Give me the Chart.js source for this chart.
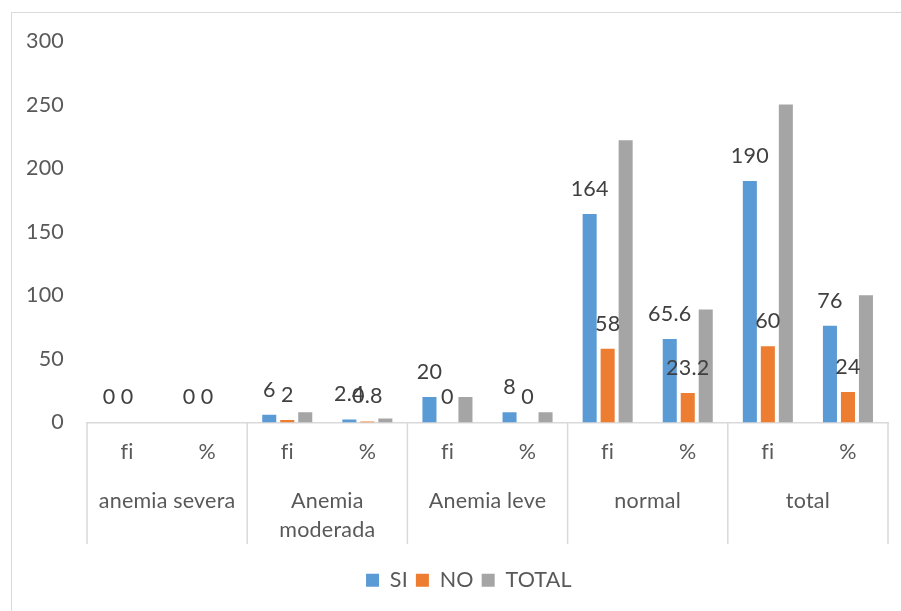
<!DOCTYPE html>
<html><head><meta charset="utf-8">
<script src="https://cdn.jsdelivr.net/npm/chart.js@4.4.0/dist/chart.umd.min.js"></script>
<style>
html,body{margin:0;padding:0;background:#fff;overflow:hidden;}
#frame{position:absolute;left:11px;top:12px;width:1000px;height:1000px;border:1px solid #D9D9D9;}
#wrap{position:absolute;left:0;top:0;width:901px;height:611px;}
</style></head><body>
<div id="frame"></div>
<div id="wrap"><canvas id="c" width="901" height="611"></canvas></div>
<script>
const categories = ['fi','%','fi','%','fi','%','fi','%','fi','%'];
const groups = ['anemia severa',['Anemia','moderada'],'Anemia leve','normal','total'];
const siValues = [0,0,6,2.4,20,8,164,65.6,190,76];
const noValues = [0,0,2,0.8,0,0,58,23.2,60,24];
const totalValues = [0,0,8,3.2,20,8,222,88.8,250,100];
const yTicks = [0,50,100,150,200,250,300];

const FONT = 'Lato';
const FS = 21.5;

const noLigatures = {
  id:'noLigatures',
  beforeDraw(chart){ chart.ctx.letterSpacing = '0.2px'; }
};

const legendShift = {
  id:'legendShift',
  afterLayout(chart){
    if (chart.legend) { chart.legend.left += 24; chart.legend.right += 24; }
  }
};

const valueLabels = {
  id:'valueLabels',
  afterDatasetsDraw(chart){
    const ctx = chart.ctx;
    ctx.save();
    ctx.font = FS + 'px ' + FONT;
    ctx.fillStyle = '#404040';
    ctx.textAlign = 'center';
    ctx.textBaseline = 'middle';
    [0,1].forEach(di=>{
      const meta = chart.getDatasetMeta(di);
      meta.data.forEach((bar,i)=>{
        const v = chart.data.datasets[di].data[i];
        ctx.fillText(String(v), bar.x, bar.y - 25);
      });
    });
    ctx.restore();
  }
};

const groupLines = {
  id:'groupLines',
  afterDraw(chart){
    const xs = chart.scales.x;
    const half = (xs.getPixelForValue(1) - xs.getPixelForValue(0)) / 2;
    const ctx = chart.ctx;
    ctx.save();
    ctx.strokeStyle = '#D9D9D9';
    ctx.lineWidth = 1.5;
    for (let g = 0; g <= categories.length; g += 2) {
      const x = g < categories.length ? xs.getPixelForValue(g) - half : xs.getPixelForValue(categories.length - 1) + half;
      ctx.beginPath();
      ctx.moveTo(x, chart.chartArea.bottom);
      ctx.lineTo(x, 544);
      ctx.stroke();
    }
    ctx.restore();
  }
};

new Chart(document.getElementById('c'), {
  type: 'bar',
  data: {
    labels: categories,
    datasets: [
      {label:'SI', data: siValues, backgroundColor:'#5B9BD5'},
      {label:'NO', data: noValues, backgroundColor:'#ED7D31'},
      {label:'TOTAL', data: totalValues, backgroundColor:'#A5A5A5'}
    ]
  },
  options: {
    responsive: false,
    animation: false,
    devicePixelRatio: 1,
    categoryPercentage: 0.674,
    barPercentage: 0.78,
    layout: {padding: {left: 0, right: 13, top: 41, bottom: 10}},
    plugins: {
      legend: {
        position: 'bottom',
        labels: {boxWidth: 13, boxHeight: 13, padding: 8, color:'#595959', font:{family: FONT, size: FS}}
      },
      tooltip: {enabled: false}
    },
    scales: {
      y: {
        min: 0, max: 300,
        afterBuildTicks: s => { s.ticks = yTicks.map(v => ({value: v})); },
        afterFit: s => { s.width = 87; },
        grid: {display: false, drawTicks: false},
        border: {display: false},
        ticks: {color:'#595959', padding: 23, font:{family: FONT, size: FS}}
      },
      x: {
        weight: 0,
        afterFit: s => { s.height = 50; },
        grid: {display: false, drawTicks: false},
        border: {display: true, color: '#D9D9D9', width: 1.5},
        ticks: {color:'#595959', padding: 17, maxRotation: 0, autoSkip: false, font:{family: FONT, size: FS}}
      },
      x2: {
        type: 'category',
        labels: groups,
        position: 'bottom',
        offset: true,
        weight: 1,
        afterFit: s => { s.height = 89; },
        grid: {display: false, drawTicks: false},
        border: {display: false},
        ticks: {color:'#595959', padding: 14, maxRotation: 0, autoSkip: false, font:{family: FONT, size: FS, lineHeight: 1.35}}
      }
    }
  },
  plugins: [noLigatures, legendShift, valueLabels, groupLines]
});
</script>
</body></html>
